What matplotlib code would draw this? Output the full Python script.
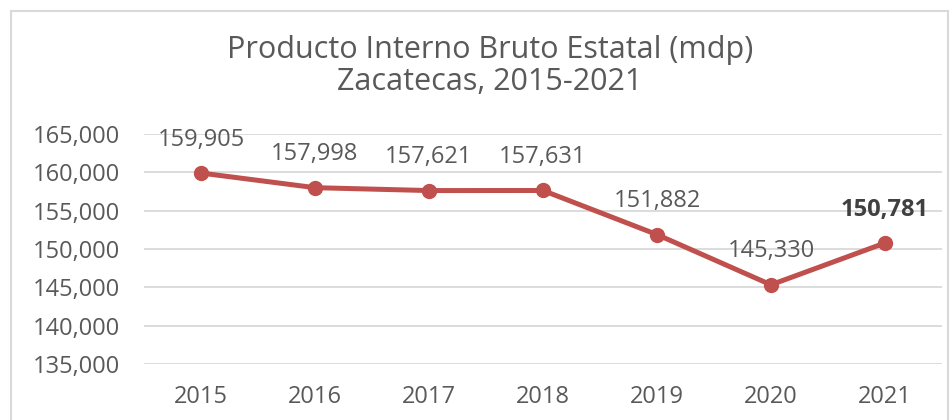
import matplotlib
matplotlib.use("Agg")
import matplotlib.pyplot as plt
from matplotlib.patches import Rectangle

# -- data ----------------------------------------------------------------------
years = ["2015", "2016", "2017", "2018", "2019", "2020", "2021"]
pib = [159905, 157998, 157621, 157631, 151882, 145330, 150781]
y_ticks = [135000, 140000, 145000, 150000, 155000, 160000, 165000]

LINE_COLOR = "#C0504D"
TEXT_COLOR = "#595959"
GRID_COLOR = "#D9D9D9"

plt.rcParams["font.family"] = ["Open Sans", "DejaVu Sans"]

fig = plt.figure(figsize=(9.51, 4.2), dpi=100)
ax = fig.add_axes([0.1514, 0.1333, 0.8391, 0.5477])

# chart border (Excel-style frame)
fig.patches.append(Rectangle((11 / 951, -0.05), (948 - 11) / 951, 1 - 11 / 420 + 0.05,
                             transform=fig.transFigure, fill=False,
                             edgecolor=GRID_COLOR, linewidth=1.5))

x = range(len(years))
ax.plot(x, pib, color=LINE_COLOR, linewidth=3.6, marker="o", markersize=10,
        solid_capstyle="round", zorder=3)

for i, v in enumerate(pib):
    last = i == len(pib) - 1
    ax.annotate(f"{v:,}", (i, v), xytext=(0, 24), textcoords="offset points",
                ha="center", va="center", fontsize=17, color="#404040" if last else TEXT_COLOR,
                fontweight="bold" if last else "normal")

ax.set_xlim(-0.5, len(years) - 0.5)
ax.set_ylim(135000, 165000)
ax.set_yticks(y_ticks)
ax.set_yticklabels([f"{t:,}" for t in y_ticks])
ax.set_xticks(list(x))
ax.set_xticklabels(years)
ax.tick_params(axis="both", length=0, labelsize=17, labelcolor=TEXT_COLOR)
ax.tick_params(axis="y", pad=17)
ax.tick_params(axis="x", pad=15)
ax.grid(axis="y", color=GRID_COLOR, linewidth=1.3)
ax.set_axisbelow(True)
for s in ax.spines.values():
    s.set_visible(False)

fig.text(0.515, 0.843, "Producto Interno Bruto Estatal (mdp)\nZacatecas, 2015-2021",
         ha="center", va="center", fontsize=22, color=TEXT_COLOR, linespacing=1.12)

plt.savefig("out.png", dpi=100)
plt.close()
